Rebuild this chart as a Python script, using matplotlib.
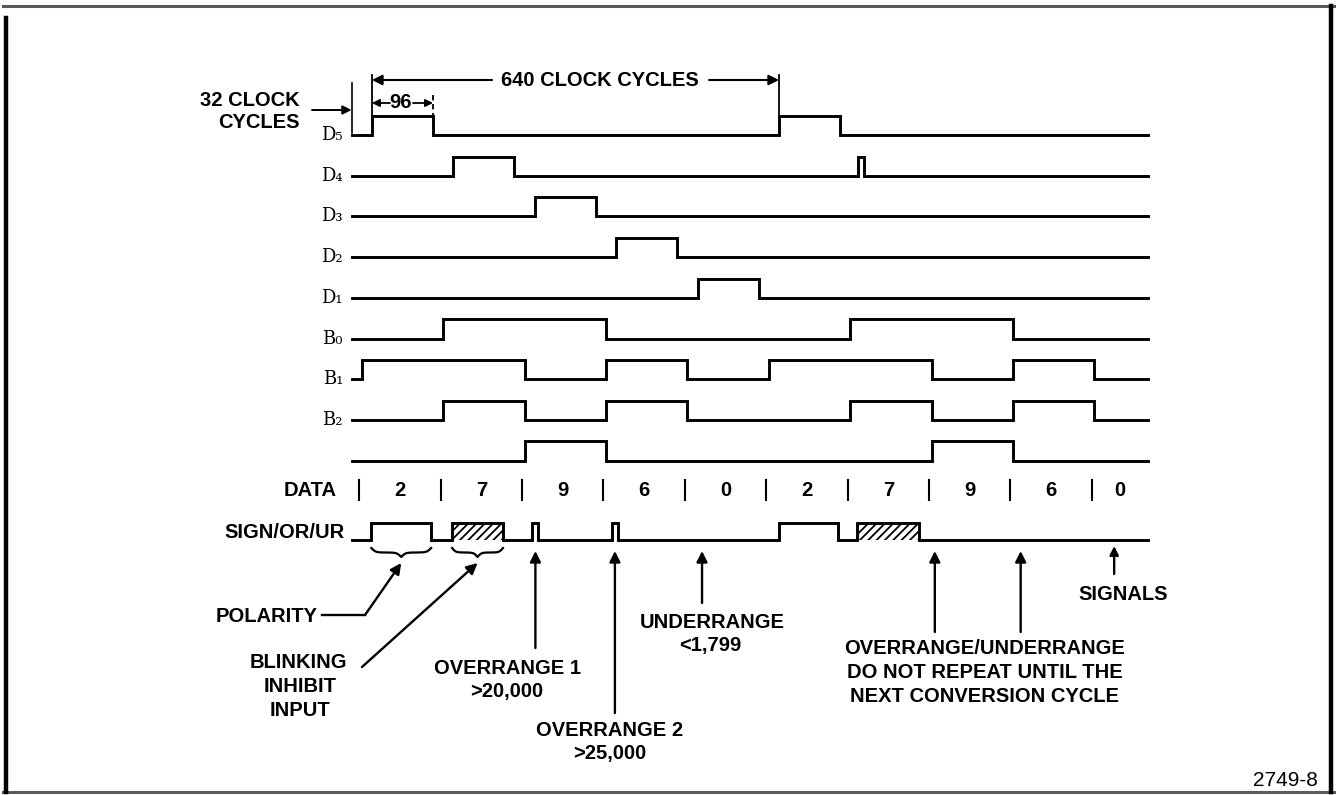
import matplotlib
matplotlib.use('Agg')
import matplotlib.pyplot as plt
import numpy as np
from matplotlib.patches import Rectangle, FancyArrowPatch

plt.rcParams['font.family'] = ['Liberation Sans', 'DejaVu Sans']
plt.rcParams['hatch.linewidth'] = 1.3

# ---------------- data (times in clock cycles) ----------------
T_END = 1252
D_LABELS = ['D₅', 'D₄', 'D₃', 'D₂', 'D₁']
D_PULSES = [[(32, 128), (672, 768)],
            [(160, 256), (797, 805)],
            [(288, 384)],
            [(416, 512)],
            [(544, 640)]]
B_LABELS = ['B₀', 'B₁', 'B₂', '']
B_EDGES = [16, 144, 272, 400, 528, 656, 784, 912, 1040, 1168]
B_LEVELS = [[0, 1, 1, 0, 0, 0, 1, 1, 0, 0],
            [1, 1, 0, 1, 0, 1, 1, 0, 1, 0],
            [0, 1, 0, 1, 0, 0, 1, 0, 1, 0],
            [0, 0, 1, 0, 0, 0, 0, 1, 0, 0]]
DATA_DIGITS = ['2', '7', '9', '6', '0', '2', '7', '9', '6', '0']
DATA_SEPS = [12, 140, 268, 396, 524, 652, 780, 908, 1036, 1164]
SIGN_PULSES = [(31, 125), (284, 293), (410, 419), (672, 765)]
SIGN_HATCHED = [(158, 238), (794, 892)]
OR1_T, OR2_T, UR_T = 289, 414, 551
NO_REPEAT_T = [917, 1052]
SIGNALS_T = 1199
CYCLE_START, CYCLE_NEXT, D5_END = 32, 672, 128

# ---------------- layout helpers ----------------
W, H = 1336, 795
X0, SX = 351.6, 0.636      # pixel of t=0, pixels per clock
Y0, SY = 135.0, 40.7       # pixel of row 0, pixels per row


def P(x, y):
    return ((x - X0) / SX, (y - Y0) / SY)


def TX(x):
    return (x - X0) / SX


def RY(y):
    return (y - Y0) / SY


fig = plt.figure(figsize=(W / 100, H / 100), dpi=100)
ax = fig.add_axes([0, 0, 1, 1])
ax.set_xlim(TX(0), TX(W))
ax.set_ylim(RY(H), RY(0))
ax.axis('off')

LW = 2.1
HI = 0.47
FS = 14.5
FW = 'bold'


def step_from_pulses(pulses, t_end=T_END):
    xs, ys = [0], [0]
    for s, e in sorted(pulses):
        xs += [s, s, e, e]
        ys += [0, 1, 1, 0]
    xs.append(t_end)
    ys.append(0)
    return np.array(xs), np.array(ys)


def step_from_levels(edges, levels, t_end=T_END):
    xs, ys = [0], [0]
    cur = 0
    for e, lv in zip(edges, levels):
        xs += [e, e]
        ys += [cur, lv]
        cur = lv
    xs.append(t_end)
    ys.append(cur)
    return np.array(xs), np.array(ys)


# D rows
for i, (lab, pulses) in enumerate(zip(D_LABELS, D_PULSES)):
    xs, ys = step_from_pulses(pulses)
    ax.plot(xs, i - HI * ys, color='black', lw=LW, solid_joinstyle='miter')
    ax.text(TX(343), i, lab, ha='right', va='center', fontsize=13,
            family=['DejaVu Serif', 'DejaVu Sans'])

# B rows
for j, (lab, lv) in enumerate(zip(B_LABELS, B_LEVELS)):
    r = 5 + j
    xs, ys = step_from_levels(B_EDGES, lv)
    ax.plot(xs, r - HI * ys, color='black', lw=LW, solid_joinstyle='miter')
    if lab:
        ax.text(TX(343), r, lab, ha='right', va='center', fontsize=13,
                family=['DejaVu Serif', 'DejaVu Sans'])

# DATA row
r_data = RY(490)
ax.text(TX(337), r_data, 'DATA', ha='right', va='center', fontsize=FS, weight=FW)
bounds = DATA_SEPS + [T_END]
for k, d in enumerate(DATA_DIGITS):
    ax.plot([DATA_SEPS[k]] * 2, [RY(480), RY(500)], color='black', lw=1.5)
    ax.text((bounds[k] + bounds[k + 1]) / 2, r_data, d, ha='center', va='center',
            fontsize=FS, weight=FW)

# SIGN/OR/UR row
r_sign = RY(540)
HS = 0.42
xs, ys = step_from_pulses(SIGN_PULSES + SIGN_HATCHED)
ax.plot(xs, r_sign - HS * ys, color='black', lw=LW, solid_joinstyle='miter')
for s, e in SIGN_HATCHED:
    ax.add_patch(Rectangle((s, r_sign - HS), e - s, HS, facecolor='none',
                           edgecolor='black', hatch='////', lw=0))
ax.text(TX(345), RY(533), 'SIGN/OR/UR', ha='right', va='center', fontsize=FS, weight=FW)


# braces under polarity and blinking pulses
def brace(t1, t2, y_top_px, depth_px):
    n = 120
    u = np.linspace(0, 1, n)
    b = 14.0
    g = 1 / (1 + np.exp(-b * u)) + 1 / (1 + np.exp(-b * (u - 1)))
    g = (g - g[0]) / (g[-1] - g[0])
    xm = (t1 + t2) / 2
    xl = t1 + (xm - t1) * u
    xr = xm + (t2 - xm) * u
    yl = y_top_px + depth_px * g
    yr = y_top_px + depth_px * g[::-1]
    xx = np.concatenate([xl, xr])
    yy = np.concatenate([yl, yr])
    ax.plot(xx, RY(yy), color='black', lw=1.6)


brace(SIGN_PULSES[0][0], SIGN_PULSES[0][1], 548, 9)
brace(SIGN_HATCHED[0][0], SIGN_HATCHED[0][1], 548, 9)


def arrow(p_from, p_to, lw=1.7, ms=16):
    a = FancyArrowPatch(p_from, p_to, arrowstyle='-|>', mutation_scale=ms,
                        color='black', lw=lw, shrinkA=0, shrinkB=0)
    ax.add_patch(a)


def label(x, y, s, ha='center', fs=FS, weight=FW):
    ax.text(TX(x), RY(y), s, ha=ha, va='center', fontsize=fs, weight=weight)


# POLARITY
label(318, 617, 'POLARITY', ha='right')
ax.plot([TX(322), TX(365)], [RY(615), RY(615)], color='black', lw=1.7)
arrow((TX(365), RY(615)), ((SIGN_PULSES[0][0] + SIGN_PULSES[0][1]) / 2, RY(563)))
# BLINKING INHIBIT INPUT
label(298, 662, 'BLINKING')
label(300, 687, 'INHIBIT')
label(300, 710, 'INPUT')
arrow((TX(362), RY(667)), ((SIGN_HATCHED[0][0] + SIGN_HATCHED[0][1]) / 2, RY(563)))
# OVERRANGE 1
arrow((OR1_T, RY(648)), (OR1_T, RY(551)))
label(507, 668, 'OVERRANGE 1')
label(507, 691, '>20,000')
# OVERRANGE 2
arrow((OR2_T, RY(713)), (OR2_T, RY(551)))
label(610, 731, 'OVERRANGE 2')
label(610, 753, '>25,000')
# UNDERRANGE
arrow((UR_T, RY(603)), (UR_T, RY(551)))
label(712, 622, 'UNDERRANGE')
label(710, 645, '<1,799')
# do-not-repeat arrows
for t in NO_REPEAT_T:
    arrow((t, RY(632)), (t, RY(551)))
label(985, 649, 'OVERRANGE/UNDERRANGE')
label(985, 673, 'DO NOT REPEAT UNTIL THE')
label(985, 697, 'NEXT CONVERSION CYCLE')
# SIGNALS
arrow((SIGNALS_T, RY(574)), (SIGNALS_T, RY(546)), ms=13)
label(1123, 594, 'SIGNALS')

# ---------------- top timing annotations ----------------
# 32 clock cycles
label(300, 100, '32 CLOCK', ha='right')
label(300, 123, 'CYCLES', ha='right')
arrow((TX(312), RY(110)), (0, RY(110)), lw=1.4, ms=13)
ax.plot([0, 0], [RY(83), RY(133)], color='black', lw=1.2)
# marker at start of D5
ax.plot([CYCLE_START] * 2, [RY(75), RY(119)], color='black', lw=1.3)
ax.plot([D5_END] * 2, [RY(95), RY(119)], color='black', lw=1.3, ls=(0, (3, 2)))
# 96
t96 = TX(401)
ax.text(t96, RY(103), '96', ha='center', va='center', fontsize=FS, weight=FW)
arrow((TX(390), RY(103)), (CYCLE_START, RY(103)), lw=1.3, ms=11)
arrow((TX(413), RY(103)), (D5_END, RY(103)), lw=1.3, ms=11)
# 640 clock cycles
ax.text(TX(600), RY(80), '640 CLOCK CYCLES', ha='center', va='center',
        fontsize=FS, weight=FW)
arrow((TX(492), RY(80)), (CYCLE_START, RY(80)), lw=1.5, ms=15)
arrow((TX(709), RY(80)), (CYCLE_NEXT, RY(80)), lw=1.5, ms=15)
ax.plot([CYCLE_NEXT] * 2, [RY(75), RY(119)], color='black', lw=1.3)

# figure number
label(1318, 780, '2749-8', ha='right', fs=15, weight='normal')

# ---------------- frame ----------------
ax.plot([TX(3), TX(1334)], [RY(6), RY(6)], color='0.35', lw=2.2, clip_on=False)
ax.plot([TX(3), TX(1334)], [RY(792), RY(792)], color='0.35', lw=2.2, clip_on=False)
ax.plot([TX(6), TX(6)], [RY(18), RY(792)], color='black', lw=3.2, clip_on=False)
ax.plot([TX(1331), TX(1331)], [RY(6), RY(792)], color='black', lw=3.2, clip_on=False)

fig.savefig('out.png', dpi=100, facecolor='white')
